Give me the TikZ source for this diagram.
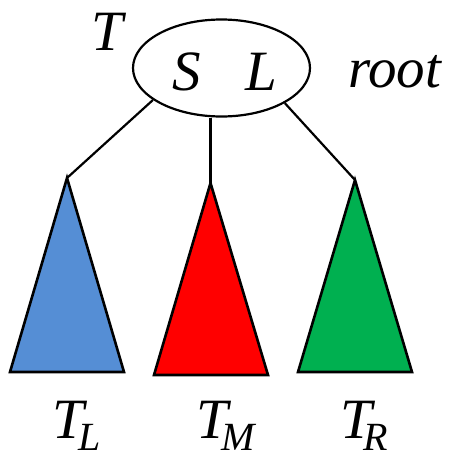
\documentclass[tikz,border=0pt]{standalone}
\usepackage{fontspec}
\newfontfamily\tms{Liberation Serif}
\usetikzlibrary{shapes.geometric}
\definecolor{tblue}{HTML}{558ED5}
\definecolor{tred}{HTML}{FF0000}
\definecolor{tgreen}{HTML}{00B050}
\begin{document}
\begin{tikzpicture}[x=1pt,y=-1pt,
  big/.style={inner sep=0pt,font=\tms\itshape\fontsize{57}{60}\selectfont},
  tri/.style={draw=black,line width=2.6pt,line join=miter},
  conn/.style={draw=black,line width=2.2pt}]
\useasboundingbox (0,0) rectangle (454,453);
\node[draw=black,line width=2.2pt,ellipse,minimum width=177pt,minimum height=97pt,inner sep=0pt] (root) at (221.5,68) {};
\node[big,anchor=base] (s) at (186.5,90) {S};
\node[big,anchor=base] (l) at (261.5,90) {L};
\node[big,anchor=base] (t) at (107,50) {T};
\node[big,anchor=base west] (rt) at (348,87) {root};
% triangles
\coordinate (al) at (67,178);
\coordinate (am) at (210.5,183);
\coordinate (ar) at (355,180);
\path[tri,fill=tblue] (al) -- (124,372) -- (10,372) -- cycle;
\path[tri,fill=tred] (am) -- (268,375) -- (154,375) -- cycle;
\path[tri,fill=tgreen] (ar) -- (412,372) -- (298,372) -- cycle;
% connectors
\draw[conn] (root.205) -- (al);
\draw[conn] (am |- root.south) -- (am);
\draw[conn] (root.331) -- (ar);
% labels
\node[big,anchor=base west] (tl) at (52,438) {T\kern-5pt\raisebox{-12pt}{\fontsize{40}{44}\selectfont L}};
\node[big,anchor=base west] (tm) at (196,438) {T\kern-6pt\raisebox{-12pt}{\fontsize{40}{44}\selectfont M}};
\node[big,anchor=base west] (tr) at (340,438) {T\kern-8pt\raisebox{-12pt}{\fontsize{40}{44}\selectfont R}};
\end{tikzpicture}
\end{document}
